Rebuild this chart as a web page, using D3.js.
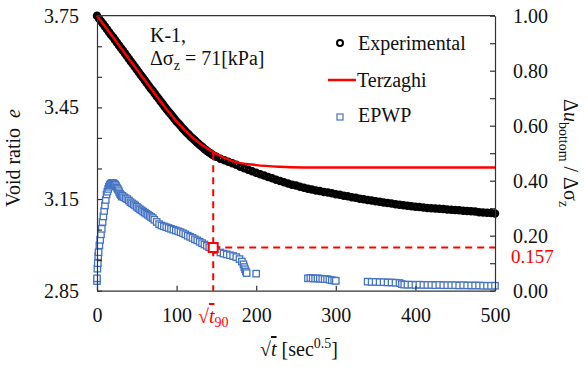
<!doctype html>
<html lang="en">
<head>
<meta charset="utf-8">
<title>K-1 consolidation</title>
<script src="https://cdn.jsdelivr.net/npm/d3@7"></script>
<style>
  body { margin: 0; background: #fff; }
</style>
</head>
<body>
<svg id="chart" width="588" height="367"></svg>
<script>
// sqrt(t) [sec^0.5] vs void ratio e
var experimental = [
  [0,3.750],[2.5,3.741],[5,3.732],[7.5,3.724],[10,3.715],[12.5,3.706],[15,3.697],[17.5,3.688],
  [20,3.680],[22.5,3.671],[25,3.662],[27.5,3.653],[30,3.644],[32.5,3.636],[35,3.627],[37.5,3.618],
  [40,3.609],[42.5,3.600],[45,3.592],[47.5,3.583],[50,3.574],[52.5,3.565],[55,3.556],[57.5,3.548],
  [60,3.539],[62.5,3.530],[65,3.521],[67.5,3.512],[70,3.504],[72.5,3.495],[75,3.486],[77.5,3.478],
  [80,3.469],[82.5,3.461],[85,3.452],[87.5,3.444],[90,3.436],[92.5,3.428],[95,3.420],[97.5,3.412],
  [100,3.404],[102.5,3.397],[105,3.390],[107.5,3.382],[110,3.375],[112.5,3.368],[115,3.362],[117.5,3.355],
  [120,3.349],[122.5,3.343],[125,3.337],[127.5,3.331],[130,3.325],[132.5,3.320],[135,3.314],[137.5,3.309],
  [140,3.304],[142.5,3.300],[145,3.295],[147.5,3.291],[150,3.288],[155,3.282],[160,3.277],[165,3.272],
  [170,3.267],[175,3.262],[180,3.256],[185,3.251],[190,3.246],[195,3.241],[200,3.236],[205,3.231],
  [210,3.227],[215,3.222],[220,3.218],[225,3.213],[230,3.209],[235,3.205],[240,3.201],[245,3.197],
  [250,3.194],[255,3.190],[260,3.187],[265,3.184],[270,3.181],[275,3.178],[280,3.176],[285,3.173],
  [290,3.171],[295,3.169],[300,3.166],[305,3.164],[310,3.161],[315,3.159],[320,3.156],[325,3.154],
  [330,3.151],[335,3.149],[340,3.147],[345,3.145],[350,3.143],[355,3.141],[360,3.139],[365,3.137],
  [370,3.135],[375,3.133],[380,3.131],[385,3.130],[390,3.128],[395,3.126],[400,3.125],[405,3.124],
  [410,3.122],[415,3.121],[420,3.120],[425,3.119],[430,3.118],[435,3.117],[440,3.116],[445,3.115],
  [450,3.114],[455,3.113],[460,3.112],[465,3.111],[470,3.110],[475,3.109],[480,3.107],[485,3.106],
  [490,3.105],[495,3.104],[500,3.103]
];

var terzaghi = [
  [0,3.750],[20,3.680],[40,3.609],[60,3.539],[85,3.452],[100,3.404],[120,3.351],[146,3.303],
  [170,3.274],[200,3.261],[230,3.2555],[260,3.2535],[300,3.253],[500,3.253]
];

// sqrt(t) vs delta u_bottom / delta sigma_z (right axis)
var epwp = [
  [0,0.035],[0,0.045],[0.5,0.08],[1,0.10],[1.5,0.125],[2,0.14],[3,0.165],[4,0.185],[5,0.205],
  [6,0.225],[7,0.25],[8,0.27],[9,0.29],[10,0.31],[11,0.33],[12,0.35],[13,0.36],[14,0.37],
  [15,0.378],[16,0.384],[17,0.388],[18,0.39],[19,0.392],[20,0.392],[21,0.39],[22,0.388],
  [23,0.385],[24,0.38],[25,0.375],[26,0.37],[27,0.365],[28,0.358],[29,0.352],[30,0.348],
  [31,0.342],[32,0.345],[34,0.34],[36,0.336],[38,0.333],[40,0.328],[42,0.322],[44,0.318],
  [46,0.314],[48,0.31],[50,0.305],[52,0.30],[54,0.296],[56,0.292],[58,0.288],[60,0.284],
  [62,0.28],[64,0.276],[66,0.272],[68,0.268],[70,0.264],[72,0.258],[75,0.25],[78,0.242],
  [81,0.237],[84,0.234],[87,0.231],[90,0.228],[93,0.225],[96,0.222],[99,0.219],[102,0.216],
  [105,0.213],[108,0.209],[111,0.205],[114,0.20],[117,0.196],[120,0.192],[123,0.187],[126,0.183],
  [129,0.178],[132,0.173],[135,0.168],[138,0.163],[141,0.158],[144,0.156],[150,0.148],[155,0.139],
  [159,0.135],[163,0.132],[167,0.129],[171,0.126],[175,0.122],[179,0.115],[182,0.106],[184,0.096],
  [185,0.086],[186,0.078],[187,0.07],[188,0.064],[200,0.062],
  [265,0.045],[268,0.046],[271,0.045],[274,0.044],[277,0.045],[280,0.044],[283,0.043],[286,0.042],
  [289,0.042],[292,0.040],[295,0.038],[298,0.037],[300,0.036],
  [340,0.033],[345,0.032],[350,0.032],[355,0.031],[360,0.031],[365,0.030],[370,0.030],[375,0.029],
  [380,0.028],[383,0.024],[386,0.022],[390,0.022],[395,0.022],[400,0.021],[405,0.022],[410,0.021],
  [415,0.021],[420,0.021],[425,0.020],[430,0.021],[435,0.020],[440,0.020],[445,0.020],[450,0.020],
  [455,0.019],[460,0.020],[465,0.019],[470,0.019],[475,0.019],[480,0.019],[485,0.018],[490,0.018],
  [495,0.018],[500,0.018]
];

var t90 = 146, e90 = 3.30, u90 = 0.157;

var xTicks = [0, 100, 200, 300, 400, 500];
var leftTicks = [2.85, 2.95, 3.05, 3.15, 3.25, 3.35, 3.45, 3.55, 3.65, 3.75];
var leftLabels = [2.85, 3.15, 3.45, 3.75];
var rightTicks = [0, 0.1, 0.2, 0.3, 0.4, 0.5, 0.6, 0.7, 0.8, 0.9, 1.0];
var rightLabels = [0, 0.2, 0.4, 0.6, 0.8, 1.0];

var FONT = "Liberation Serif";
var svg = d3.select("#chart");
var x = d3.scaleLinear().domain([0, 500]).range([97, 495]);
var yL = d3.scaleLinear().domain([2.85, 3.75]).range([290.7, 15.7]);
var yR = d3.scaleLinear().domain([0, 1]).range([290.7, 15.7]);
var red = "#ff0000", blue = "#4472c4", ink = "#111";

var has = (arr, d) => arr.some(v => Math.abs(v - d) < 1e-6);

// experimental points
svg.append("g").selectAll("circle").data(experimental).enter().append("circle")
  .attr("cx", d => x(d[0])).attr("cy", d => yL(d[1])).attr("r", 2.5)
  .attr("fill", "none").attr("stroke", "#000").attr("stroke-width", 3.5);

// terzaghi
svg.append("path").datum(terzaghi)
  .attr("d", d3.line().x(d => x(d[0])).y(d => yL(d[1])).curve(d3.curveMonotoneX))
  .attr("fill", "none").attr("stroke", red).attr("stroke-width", 2.5);

// EPWP
svg.append("g").selectAll("rect").data(epwp).enter().append("rect")
  .attr("x", d => x(d[0]) - 3.2).attr("y", d => yR(d[1]) - 3.2).attr("width", 6.4).attr("height", 6.4)
  .attr("fill", "#fff").attr("stroke", blue).attr("stroke-width", 1.3);

// t90 guides
svg.append("line").attr("x1", x(t90)).attr("x2", x(t90)).attr("y1", yL(e90)).attr("y2", yR(0))
  .attr("stroke", red).attr("stroke-width", 2).attr("stroke-dasharray", "7,5");
svg.append("line").attr("x1", x(t90)).attr("x2", x(500)).attr("y1", yR(u90)).attr("y2", yR(u90))
  .attr("stroke", red).attr("stroke-width", 2).attr("stroke-dasharray", "7,5");
svg.append("rect").attr("x", x(t90) - 4.5).attr("y", yR(u90) - 4.5).attr("width", 9).attr("height", 9)
  .attr("fill", "#fff").attr("stroke", red).attr("stroke-width", 2);

// axes
svg.append("line").attr("x1", 97).attr("x2", 495).attr("y1", 15.7).attr("y2", 15.7)
  .attr("stroke", "#333").attr("stroke-width", 1.2);

svg.append("g").attr("transform", "translate(97,0)")
  .call(d3.axisLeft(yL).tickValues(leftTicks).tickSize(-5).tickSizeOuter(0).tickPadding(18)
    .tickFormat(d => has(leftLabels, d) ? d.toFixed(2) : ""));
svg.append("g").attr("transform", "translate(495,0)")
  .call(d3.axisRight(yR).tickValues(rightTicks).tickSize(-5).tickSizeOuter(0).tickPadding(18)
    .tickFormat(d => has(rightLabels, d) ? d.toFixed(2) : ""));
svg.append("g").attr("transform", "translate(0,290.7)")
  .call(d3.axisBottom(x).tickValues(xTicks).tickSize(-5).tickSizeOuter(0).tickPadding(17)
    .tickFormat(d => d));
svg.selectAll(".domain, .tick line").attr("stroke", "#333").attr("stroke-width", 1.2);
svg.selectAll(".tick text").attr("font-size", 20).attr("fill", ink);

// 0.157 label
svg.append("text").attr("x", 511).attr("y", yR(u90) + 15).attr("font-size", 19)
  .attr("fill", red).text(u90.toFixed(3));

// sqrt t90 label
var t90Label = svg.append("text").attr("x", x(t90)).attr("y", 323).attr("text-anchor", "middle")
  .attr("font-size", 20).attr("fill", red);
t90Label.append("tspan").text("\u221A");
t90Label.append("tspan").attr("font-style", "italic").style("text-decoration", "overline").text("t");
t90Label.append("tspan").attr("font-size", 14).attr("dy", 4).text("90");

// axis titles
var xt = svg.append("text").attr("x", 299).attr("y", 356).attr("text-anchor", "middle").attr("font-size", 20);
xt.append("tspan").text("\u221A");
xt.append("tspan").attr("font-style", "italic").style("text-decoration", "overline").text("t");
xt.append("tspan").text(" [sec");
xt.append("tspan").attr("font-size", 14).attr("dy", -8).text("0.5");
xt.append("tspan").attr("dy", 8).text("]");

var yt = svg.append("text").attr("transform", "translate(20,158) rotate(-90)")
  .attr("text-anchor", "middle").attr("font-size", 20);
yt.append("tspan").text("Void ratio\u00A0\u00A0");
yt.append("tspan").attr("font-style", "italic").text("e");

var rt = svg.append("text").attr("transform", "translate(564,153) rotate(90)")
  .attr("text-anchor", "middle").attr("font-size", 20);
rt.append("tspan").text("\u0394");
rt.append("tspan").attr("font-style", "italic").text("u");
rt.append("tspan").attr("font-size", 14).attr("dy", 5).text("bottom");
rt.append("tspan").attr("dy", -5).text(" / \u0394\u03C3");
rt.append("tspan").attr("font-size", 14).attr("dy", 5).text("z");

// annotation
svg.append("text").attr("x", 150).attr("y", 42).attr("font-size", 20).text("K-1,");
var an = svg.append("text").attr("x", 150).attr("y", 65).attr("font-size", 20);
an.append("tspan").text("\u0394\u03C3");
an.append("tspan").attr("font-size", 14).attr("dy", 5).text("z");
an.append("tspan").attr("dy", -5).text(" = 71[kPa]");

// legend
var lg = svg.append("g");
lg.append("circle").attr("cx", 340).attr("cy", 43).attr("r", 3).attr("fill", "none")
  .attr("stroke", "#000").attr("stroke-width", 2);
lg.append("text").attr("x", 358).attr("y", 50).attr("font-size", 20).text("Experimental");
lg.append("line").attr("x1", 328).attr("x2", 356).attr("y1", 80).attr("y2", 80)
  .attr("stroke", red).attr("stroke-width", 2.5);
lg.append("text").attr("x", 357).attr("y", 87).attr("font-size", 20).text("Terzaghi");
lg.append("rect").attr("x", 337).attr("y", 114).attr("width", 6).attr("height", 6)
  .attr("fill", "#fff").attr("stroke", blue).attr("stroke-width", 1.2);
lg.append("text").attr("x", 358).attr("y", 122).attr("font-size", 20).text("EPWP");

// one font for every text, set last so nothing overrides it
svg.selectAll("g").attr("font-family", FONT);
svg.selectAll("text").attr("font-family", FONT).style("font-family", FONT);
svg.selectAll("text:not([fill])").attr("fill", ink);
</script>
</body>
</html>
